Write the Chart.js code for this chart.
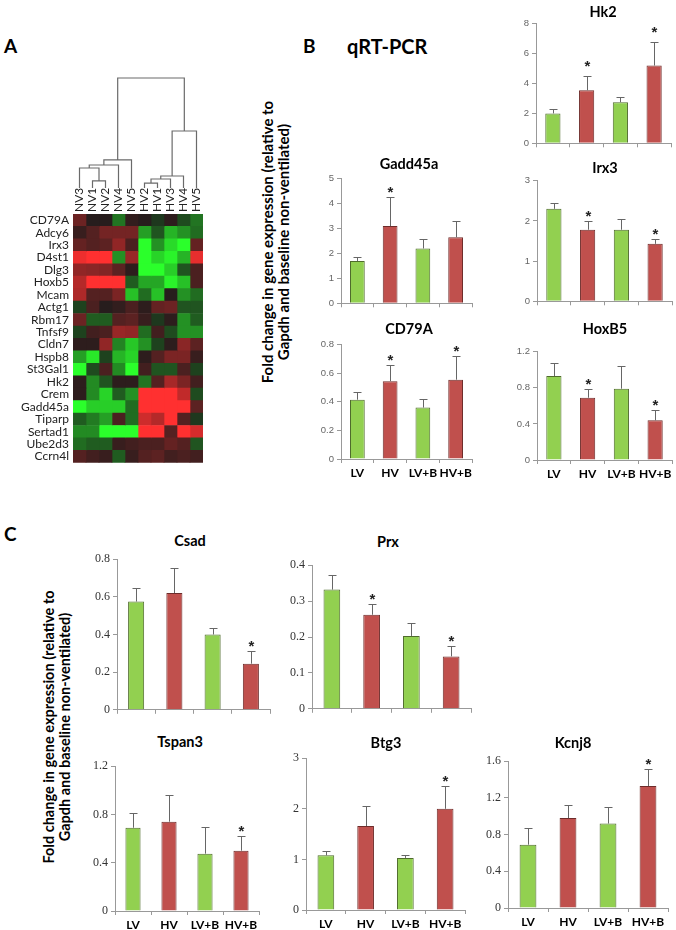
<!DOCTYPE html>
<html>
<head>
<meta charset="utf-8">
<script src="https://cdn.jsdelivr.net/npm/chart.js@4.4.1/dist/chart.umd.min.js"></script>
<style>
  body { margin: 0; width: 676px; height: 930px; position: relative; overflow: hidden; background: #fff; font-family: Lato, "Open Sans", sans-serif; color: #000; }
  .box { position: absolute; }
  .letter { position: absolute; font-weight: bold; font-size: 19px; line-height: 1; }
  .ttl { position: absolute; transform: translate(-50%, -50%); font-weight: bold; font-size: 14.5px; white-space: nowrap; }
  .ytl { position: absolute; transform: translate(-50%, -50%) rotate(-90deg); font-weight: bold; line-height: 16px; text-align: center; white-space: nowrap; }
</style>
</head>
<body>
<div class="letter" style="left:4px;top:36px;">A</div>
<div class="letter" style="left:303px;top:36px;">B</div>
<div class="letter" style="left:347px;top:36px;font-size:20px;">qRT-PCR</div>
<div class="letter" style="left:4px;top:524px;">C</div>
<div class="ytl" style="left:275px;top:242px;font-size:15px;">Fold change in gene expression (relative to<br>Gapdh and baseline non-ventilated)</div>
<div class="ytl" style="left:57px;top:727px;font-size:14.5px;">Fold change in gene expression (relative to<br>Gapdh and baseline non-ventilated)</div>

<canvas id="dendro" class="box" width="130" height="111" style="left:73px;top:77px;"></canvas>
<canvas id="heat" class="box" width="204" height="300" style="left:0px;top:174px;"></canvas>

<script>
// ---- panel A: heatmap ----
const samples = ["NV3", "NV1", "NV2", "NV4", "NV5", "HV2", "HV1", "HV3", "HV4", "HV5"];
const genes = ["CD79A", "Adcy6", "Irx3", "D4st1", "Dlg3", "Hoxb5", "Mcam", "Actg1", "Rbm17", "Tnfsf9",
               "Cldn7", "Hspb8", "St3Gal1", "Hk2", "Crem", "Gadd45a", "Tiparp", "Sertad1", "Ube2d3", "Ccrn4l"];
// centred expression, rows = genes, columns = samples (red up, green down)
const heatValues = [
  [0.8, 0.05, 0.05, -0.9, 0.15, 0.05, -0.2, 0.1, -0.4, -0.9],
  [0.2, 0.5, 0.9, 0.9, 0.9, -1.5, -0.5, -1.8, -1.3, -0.8],
  [0.7, 0.5, 0.6, 1.3, 0.4, -3, -1.3, -2.4, -3, 0.7],
  [2.7, 3, 3, -1.3, 1.4, -3, -2.3, -2.8, -1.8, 2.6],
  [1.3, 1.2, 1.1, 0.6, 0.1, -3, -3, -2.2, -0.5, 0.4],
  [1.8, 3, 3, 3, -0.6, -1.6, -1.6, -2.8, -2.0, 0.4],
  [1.7, 0.5, 0.5, 1.0, -2.0, -0.8, -2.0, 0.05, -1.3, -0.8],
  [-0.3, 0.4, 0.05, 0.15, 0.4, 0.1, 0.7, 0.8, -0.5, -0.5],
  [0.8, -0.6, -0.6, 0.5, 0.6, 0.2, -0.2, 0.1, -1.3, -0.6],
  [-0.3, 0.3, 0.4, 1.4, 1.3, -0.8, 0.3, -0.4, -1.3, -1.3],
  [0.1, 0.1, 1.3, -1.1, -2.1, -1.3, -0.3, 0.1, 1.2, 0.6],
  [-1.5, -2.6, -0.3, -1.8, -2.3, 0.1, 0.5, 1.0, 1.0, 0.2],
  [-3, -0.4, 0.4, -1.2, -3, 0.3, -0.5, -0.5, 0.4, -0.3],
  [0.1, -1.2, -0.5, 0.1, 0.1, -0.9, 0.5, 1.6, 1.0, 0.3],
  [0.1, -1.2, -2.3, -0.6, -1.3, 3, 3, 3, 2.0, -0.4],
  [-3, -2.2, -2.2, -2.2, -0.8, 3, 3, 3, 3, 0.6],
  [-0.6, -1.0, -1.5, 0.4, -0.8, 2.2, 1.8, 3, 0.5, -0.2],
  [-1.2, -1.2, -3, -3, -3, 3, 3, 0.5, 3, 2.3],
  [-0.8, -0.6, -0.6, 0.2, 0.3, 0.4, 0.4, 0.7, 0.5, -0.5],
  [0.5, 0.3, 0.2, -0.6, 0.2, 0.5, 0.6, 0.3, 0.4, 0.3]
];
// dendrogram merges, hclust style: negative = leaf (column), positive = earlier merge
const mergeA = [-2, -6, -1, 2, 3, 4, 5, 6, 7];
const mergeB = [-3, -7, 1, -8, -4, -9, -5, -10, 8];
const mergeH = [0.64, 0.45, 1.82, 0.82, 2.09, 1.09, 2.55, 5.18, 10];

// ---- panels B and C: qRT-PCR bars ----
const groups = ["LV", "HV", "LV+B", "HV+B"];

const hk2Mean = [2.0, 3.55, 2.75, 5.2];
const hk2Sem = [0.3, 0.95, 0.35, 1.55];
const hk2Star = [0, 1, 0, 1];
const hk2Ticks = [0, 2, 4, 6, 8];

const gadd45aMean = [1.7, 3.1, 2.2, 2.65];
const gadd45aSem = [0.15, 1.15, 0.4, 0.65];
const gadd45aStar = [0, 1, 0, 0];
const gadd45aTicks = [0, 1, 2, 3, 4, 5];

const irx3Mean = [2.3, 1.78, 1.78, 1.43];
const irx3Sem = [0.15, 0.22, 0.26, 0.12];
const irx3Star = [0, 1, 0, 1];
const irx3Ticks = [0, 1, 2, 3];

const cd79aMean = [0.415, 0.545, 0.36, 0.555];
const cd79aSem = [0.055, 0.115, 0.06, 0.165];
const cd79aStar = [0, 1, 0, 1];
const cd79aTicks = [0, 0.2, 0.4, 0.6, 0.8];

const hoxb5Mean = [0.93, 0.69, 0.79, 0.44];
const hoxb5Sem = [0.15, 0.1, 0.25, 0.115];
const hoxb5Star = [0, 1, 0, 1];
const hoxb5Ticks = [0, 0.4, 0.8, 1.2];

const csadMean = [0.575, 0.62, 0.4, 0.245];
const csadSem = [0.07, 0.135, 0.035, 0.07];
const csadStar = [0, 0, 0, 1];
const csadTicks = [0, 0.2, 0.4, 0.6, 0.8];

const prxMean = [0.332, 0.262, 0.203, 0.146];
const prxSem = [0.041, 0.03, 0.035, 0.03];
const prxStar = [0, 1, 0, 1];
const prxTicks = [0, 0.1, 0.2, 0.3, 0.4];

const tspan3Mean = [0.69, 0.74, 0.475, 0.5];
const tspan3Sem = [0.12, 0.22, 0.22, 0.125];
const tspan3Star = [0, 0, 0, 1];
const tspan3Ticks = [0, 0.4, 0.8, 1.2];

const btg3Mean = [1.08, 1.66, 1.03, 2.0];
const btg3Sem = [0.09, 0.39, 0.05, 0.45];
const btg3Star = [0, 0, 0, 1];
const btg3Ticks = [0, 1, 2, 3];

const kcnj8Mean = [0.69, 0.98, 0.92, 1.33];
const kcnj8Sem = [0.18, 0.14, 0.18, 0.19];
const kcnj8Star = [0, 0, 0, 1];
const kcnj8Ticks = [0, 0.4, 0.8, 1.2, 1.6];

const GREEN = "#92d050", RED = "#c0504d";
const barFill = [GREEN, RED, GREEN, RED];
const barEdge = ["#4f6b2c", "#6e2c2a", "#4f6b2c", "#6e2c2a"];

function heatColor(v) {
  const k = Math.pow(Math.min(Math.abs(v) / 3, 1), 0.8);
  if (v >= 0) return `rgb(${Math.round(30 + 225 * k)},${Math.round(28 + 20 * k)},${Math.round(28 + 20 * k)})`;
  return `rgb(${Math.round(28 + 15 * k)},${Math.round(30 + 225 * k)},${Math.round(28 + 15 * k)})`;
}

// dendrogram
const nodeX = [], nodeH = [];
function nodePos(k) { return k < 0 ? [-k - 1, 0] : [nodeX[k - 1], nodeH[k - 1]]; }
const dendroSets = mergeA.map((a, i) => {
  const [xa, ha] = nodePos(a);
  const [xb, hb] = nodePos(mergeB[i]);
  nodeX.push((xa + xb) / 2);
  nodeH.push(mergeH[i]);
  return {
    data: [{ x: xa, y: ha }, { x: xa, y: mergeH[i] }, { x: xb, y: mergeH[i] }, { x: xb, y: hb }],
    showLine: true, borderColor: "#6a6a6a", borderWidth: 1.2, pointRadius: 0, clip: false, fill: false
  };
});

new Chart(document.getElementById("dendro"), {
  type: "scatter",
  data: { datasets: dendroSets },
  options: {
    responsive: false, animation: false, events: [],
    layout: { padding: { top: 1, left: 0, right: 0, bottom: 0 } },
    plugins: { legend: { display: false }, tooltip: { enabled: false } },
    scales: {
      x: { type: "linear", min: -0.5, max: 9.5, display: false },
      y: { type: "linear", min: 0, max: 10, display: false }
    }
  }
});

new Chart(document.getElementById("heat"), {
  type: "bar",
  data: {
    labels: genes,
    datasets: samples.map((s, j) => ({
      label: s,
      data: genes.map(() => 1),
      backgroundColor: heatValues.map(row => heatColor(row[j])),
      borderWidth: 0,
      barPercentage: 1,
      categoryPercentage: 1
    }))
  },
  options: {
    indexAxis: "y",
    responsive: false, animation: false, events: [],
    layout: { padding: { top: 0, left: 0, right: 1, bottom: 0 } },
    plugins: { legend: { display: false }, tooltip: { enabled: false } },
    scales: {
      y: {
        type: "category", stacked: true,
        grid: { display: false, drawTicks: false }, border: { display: false },
        ticks: { font: { family: "Lato", size: 12 }, color: "#222", padding: 4, autoSkip: false },
        afterFit(s) { s.width = 73; }
      },
      x: {
        type: "linear", position: "top", stacked: true, min: 0, max: 10,
        grid: { display: false, drawTicks: false }, border: { display: false },
        afterBuildTicks(s) { s.ticks = samples.map((_, i) => ({ value: i + 0.5 })); },
        ticks: {
          callback: (v, i) => samples[i], minRotation: 90, maxRotation: 90, autoSkip: false,
          labelOffset: 14, padding: 2, font: { family: "Lato", size: 12 }, color: "#222"
        },
        afterFit(s) { s.height = 40; }
      }
    }
  }
});

// error bars + significance stars
const errorBars = {
  id: "errorBars",
  afterDatasetsDraw(chart) {
    const { ctx, scales: { y } } = chart;
    const ds = chart.data.datasets[0];
    const meta = chart.getDatasetMeta(0);
    ctx.save();
    ctx.strokeStyle = "#666";
    ctx.lineWidth = 1;
    ctx.fillStyle = "#222";
    ctx.font = "bold 15px 'Liberation Sans'";
    ctx.textAlign = "center";
    meta.data.forEach((bar, i) => {
      const top = Math.round(y.getPixelForValue(ds.data[i] + ds.sem[i])) + 0.5;
      const x = Math.round(bar.x) + 0.5;
      ctx.beginPath();
      ctx.moveTo(x, bar.y);
      ctx.lineTo(x, top);
      ctx.moveTo(x - 4, top);
      ctx.lineTo(x + 4, top);
      ctx.stroke();
      if (ds.star[i]) ctx.fillText("*", x, top - ds.starGap + 9);
    });
    ctx.restore();
  }
};

// box = [y-axis x, right end, pixel of top tick, pixel of zero]; head = title centre
const panels = [
  { title: "Hk2", mean: hk2Mean, sem: hk2Sem, star: hk2Star, ticks: hk2Ticks, box: [536, 671, 23, 144], head: [603, 11], labels: false, serif: false, starGap: 15 },
  { title: "Gadd45a", mean: gadd45aMean, sem: gadd45aSem, star: gadd45aStar, ticks: gadd45aTicks, box: [341, 472, 178, 304], head: [409, 163], labels: false, serif: false, starGap: 10 },
  { title: "Irx3", mean: irx3Mean, sem: irx3Sem, star: irx3Star, ticks: irx3Ticks, box: [537, 672, 180, 302], head: [605, 167], labels: false, serif: false, starGap: 10 },
  { title: "CD79A", mean: cd79aMean, sem: cd79aSem, star: cd79aStar, ticks: cd79aTicks, box: [341, 472, 344, 459], head: [409, 328], labels: true, serif: false, starGap: 10 },
  { title: "HoxB5", mean: hoxb5Mean, sem: hoxb5Sem, star: hoxb5Star, ticks: hoxb5Ticks, box: [537, 672, 351, 460], head: [605, 328], labels: true, serif: false, starGap: 10 },
  { title: "Csad", mean: csadMean, sem: csadSem, star: csadStar, ticks: csadTicks, box: [117, 270, 557, 712], head: [190, 540], labels: false, serif: true, starGap: 10 },
  { title: "Prx", mean: prxMean, sem: prxSem, star: prxStar, ticks: prxTicks, box: [312, 471, 563, 711], head: [388, 541], labels: false, serif: true, starGap: 10 },
  { title: "Tspan3", mean: tspan3Mean, sem: tspan3Sem, star: tspan3Star, ticks: tspan3Ticks, box: [115, 259, 764, 911], head: [180, 741], labels: true, serif: true, starGap: 10 },
  { title: "Btg3", mean: btg3Mean, sem: btg3Sem, star: btg3Star, ticks: btg3Ticks, box: [306, 465, 756, 910], head: [386, 742], labels: true, serif: true, starGap: 10 },
  { title: "Kcnj8", mean: kcnj8Mean, sem: kcnj8Sem, star: kcnj8Star, ticks: kcnj8Ticks, box: [508, 668, 759, 908], head: [573, 742], labels: true, serif: true, starGap: 10 }
];

const Y_W = 32, PAD_T = 8, PAD_R = 4;

panels.forEach(p => {
  const [ax, rx, ty, zy] = p.box;
  const xH = p.labels ? 24 : 8;
  const cv = document.createElement("canvas");
  cv.className = "box";
  cv.width = Y_W + (rx - ax) + PAD_R;
  cv.height = PAD_T + (zy - ty) + xH;
  cv.style.left = (ax - Y_W) + "px";
  cv.style.top = (ty - PAD_T) + "px";
  document.body.appendChild(cv);

  const t = document.createElement("div");
  t.className = "ttl";
  t.textContent = p.title;
  t.style.left = p.head[0] + "px";
  t.style.top = p.head[1] + "px";
  document.body.appendChild(t);

  new Chart(cv, {
    type: "bar",
    data: {
      labels: groups,
      datasets: [{
        data: p.mean, sem: p.sem, star: p.star, starGap: p.starGap,
        backgroundColor: barFill, borderColor: barEdge, borderWidth: 1,
        barPercentage: p.serif ? 0.42 : 0.45, categoryPercentage: 1
      }]
    },
    options: {
      responsive: false, animation: false, events: [],
      layout: { padding: { top: PAD_T, right: PAD_R, left: 0, bottom: 0 } },
      plugins: { legend: { display: false }, tooltip: { enabled: false } },
      scales: {
        x: {
          grid: { display: true, drawOnChartArea: false, drawTicks: true, tickLength: 4, color: "#999", offset: true },
          border: { color: "#999" },
          ticks: { display: p.labels, font: { family: "Lato", weight: "bold", size: 12 }, color: "#000", padding: 3, maxRotation: 0, autoSkip: false },
          afterFit(s) { s.height = xH; }
        },
        y: {
          min: p.ticks[0], max: p.ticks[p.ticks.length - 1],
          afterBuildTicks(s) { s.ticks = p.ticks.map(v => ({ value: v })); },
          grid: { drawOnChartArea: false, tickLength: 4, color: "#999" },
          border: { color: "#999" },
          ticks: {
            font: p.serif ? { family: "Liberation Serif", size: 12 } : { family: "Liberation Sans", size: 9.5 },
            color: p.serif ? "#333" : "#666", padding: 3,
            callback: v => String(v)
          },
          afterFit(s) { s.width = Y_W; }
        }
      }
    },
    plugins: [errorBars]
  });
});
</script>
</body>
</html>
